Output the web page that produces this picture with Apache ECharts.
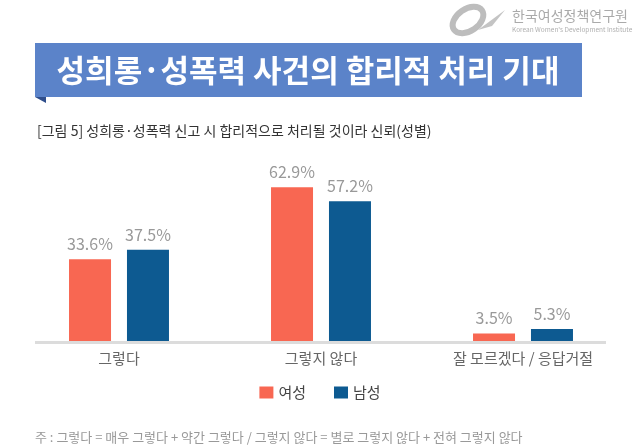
<!DOCTYPE html>
<html><head><meta charset="utf-8">
<script src="https://cdn.jsdelivr.net/npm/echarts@6/dist/echarts.min.js"></script>
<style>html,body{margin:0;padding:0;background:#fff}#c{width:640px;height:448px}</style>
</head><body><div id="c"></div>
<script>
const categories = ['그렇다', '그렇지 않다', '잘 모르겠다 / 응답거절'];
const seriesNames = ['여성', '남성'];
const female = [33.6, 62.9, 3.5];
const male = [37.5, 57.2, 5.3];
const title = '성희롱·성폭력 사건의 합리적 처리 기대';
const subtitle = '[그림 5] 성희롱·성폭력 신고 시 합리적으로 처리될 것이라 신뢰(성별)';
const note = '주 : 그렇다 = 매우 그렇다 + 약간 그렇다 / 그렇지 않다 = 별로 그렇지 않다 + 전혀 그렇지 않다';
const FONT = '"Noto Sans CJK KR", "Noto Sans", sans-serif';

const chart = echarts.init(document.getElementById('c'), null, {renderer: 'canvas'});
const labelOpt = {show: true, position: 'top', distance: 7, color: '#999', fontSize: 16, fontFamily: FONT, formatter: p => p.value + '%'};
chart.setOption({
  animation: false,
  textStyle: {fontFamily: FONT},
  grid: {left: 18, right: 16, top: 160, bottom: 106},
  legend: {
    data: seriesNames, bottom: 43, left: 'center', itemWidth: 14, itemHeight: 12, itemGap: 28,
    icon: 'rect', textStyle: {fontSize: 15, color: '#444', fontFamily: FONT}
  },
  xAxis: {
    type: 'category', data: categories,
    axisLine: {show: false}, axisTick: {show: false},
    axisLabel: {color: '#666', fontSize: 15, margin: 9, fontFamily: FONT}
  },
  yAxis: {type: 'value', min: 0, max: 74, show: false, splitLine: {show: false}},
  series: [
    {name: seriesNames[0], type: 'bar', data: female, barWidth: 42, barGap: '38%', itemStyle: {color: '#F86752'}, label: labelOpt},
    {name: seriesNames[1], type: 'bar', data: male, barWidth: 42, itemStyle: {color: '#0D5A91'}, label: labelOpt}
  ],
  graphic: [
    {type: 'rect', shape: {x: 35, y: 341, width: 571, height: 3}, style: {fill: '#dcdcdc'}, z: 10},
    {type: 'rect', shape: {x: 35, y: 43, width: 547, height: 54}, style: {fill: '#5B83C9'}},
    {type: 'polygon', shape: {points: [[35, 97], [46, 97], [46, 103]]}, style: {fill: '#2F4E8C'}},
    {type: 'text', x: 308, y: 70, style: {text: title, fill: '#fff', fontSize: 31, fontWeight: 'bold', fontFamily: FONT, align: 'center', verticalAlign: 'middle'}},
    {type: 'text', x: 37, y: 131, style: {text: subtitle, fill: '#333', fontSize: 14, fontFamily: FONT, verticalAlign: 'middle'}},
    {type: 'text', x: 35, y: 437, style: {text: note, fill: '#999', fontSize: 13, fontFamily: FONT, verticalAlign: 'middle'}},
    {type: 'ellipse', shape: {cx: 468, cy: 20, rx: 17, ry: 11}, rotation: 0.6, originX: 468, originY: 20, style: {fill: 'none', stroke: '#bdbdbd', lineWidth: 6}},
    {type: 'polygon', shape: {points: [[478, 30], [505, 10], [492, 26]]}, style: {fill: '#c4c4c4'}},
    {type: 'text', x: 512, y: 16, style: {text: '한국여성정책연구원', fill: '#aaa', fontSize: 14, fontFamily: FONT, verticalAlign: 'middle'}},
    {type: 'text', x: 512, y: 30, style: {text: "Korean Women's Development Institute", fill: '#b0b0b0', fontSize: 6.5, fontFamily: FONT, verticalAlign: 'middle'}}
  ]
});
</script></body></html>
